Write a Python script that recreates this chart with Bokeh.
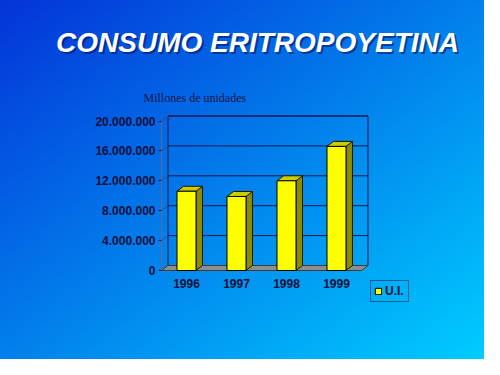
from bokeh.plotting import figure
from bokeh.models import Range1d, FixedTicker, Label, Legend, LegendItem
from bokeh.embed import file_html
from bokeh.resources import INLINE

# ---- data ----
years = ["1996", "1997", "1998", "1999"]
consumo = [10_600_000, 9_900_000, 12_000_000, 16_600_000]
y_ticks = [0, 4_000_000, 8_000_000, 12_000_000, 16_000_000, 20_000_000]
y_tick_labels = ["0", "4.000.000", "8.000.000", "12.000.000", "16.000.000", "20.000.000"]
titulo = "CONSUMO ERITROPOYETINA"
subtitulo = "Millones de unidades"
serie = "U.I."

# ---- layout constants (canvas pixels, from top-left) ----
W, H = 484, 359
Y0PX, YTOPPX = 270, 120.5      # px of 0 and of 20M on the front plane
XSTEP, X0PX = 50, 186          # px per category, px of first category
ymax = y_ticks[-1]
sy = (Y0PX - YTOPPX) / ymax
dxu = 6.5 / XSTEP
dyu = 5 / sy
bw = 0.38
xpos = list(range(len(years)))
x_start = -X0PX / XSTEP
x_end = (W - X0PX) / XSTEP
y_start = -(H - Y0PX) / sy
y_end = Y0PX / sy
wl, wr = -0.5, len(years) - 0.5

NAVY = "#16164e"
TXT = "#10103a"

p = figure(width=W, height=H, x_range=Range1d(x_start, x_end), y_range=Range1d(y_start, y_end),
           output_backend="svg", toolbar_location=None,
           min_border_left=0, min_border_right=0, min_border_top=0, min_border_bottom=0)
p.styles = {"background": "linear-gradient(to bottom right, #0433d8, #00ccff)"}
p.background_fill_alpha = 0
p.border_fill_alpha = 0
p.outline_line_color = None
p.xgrid.visible = False
p.ygrid.visible = False

# axes (drawn at fixed data locations inside the frame)
p.yaxis.fixed_location = wl
p.xaxis.fixed_location = 0
p.yaxis.ticker = FixedTicker(ticks=y_ticks)
p.yaxis.major_label_overrides = {t: l for t, l in zip(y_ticks, y_tick_labels)}
p.yaxis.axis_line_color = None
p.yaxis.major_tick_out = 3
p.yaxis.major_tick_in = 0
p.yaxis.major_tick_line_color = NAVY
p.yaxis.minor_tick_line_color = None
p.yaxis.major_label_standoff = 3
p.xaxis.ticker = FixedTicker(ticks=xpos)
p.xaxis.major_label_overrides = {i: y for i, y in zip(xpos, years)}
p.xaxis.axis_line_color = None
p.xaxis.major_tick_line_color = None
p.xaxis.minor_tick_line_color = None
p.xaxis.major_label_standoff = 2
for ax in (p.xaxis, p.yaxis):
    ax.major_label_text_font = "Liberation Sans"
    ax.major_label_text_font_style = "bold"
    ax.major_label_text_font_size = "12px"
    ax.major_label_text_color = TXT

# back wall
p.patch([wl + dxu, wr + dxu, wr + dxu, wl + dxu], [dyu, dyu, ymax + dyu, ymax + dyu],
        fill_alpha=0, line_color=NAVY, line_width=1)
# gridlines on back wall
p.multi_line([[wl + dxu, wr + dxu] for t in y_ticks[1:]], [[t + dyu, t + dyu] for t in y_ticks[1:]],
             line_color=NAVY, line_width=1)
# left wall
p.multi_line([[wl, wl + dxu] for t in y_ticks], [[t, t + dyu] for t in y_ticks],
             line_color="#3a4a80", line_width=1)
p.line([wl, wl], [0, ymax], line_color="#5a6a90", line_width=1)
# floor
p.patch([wl, wr, wr + dxu, wl + dxu], [0, 0, dyu, dyu],
        fill_color="#8e8e8e", line_color="#3c3c3c", line_width=1)

# bars: side and top faces
side_xs, side_ys, top_xs, top_ys = [], [], [], []
for xi, v in zip(xpos, consumo):
    x0, x1 = xi - bw / 2, xi + bw / 2
    side_xs.append([x1, x1 + dxu, x1 + dxu, x1])
    side_ys.append([0, dyu, v + dyu, v])
    top_xs.append([x0, x1, x1 + dxu, x0 + dxu])
    top_ys.append([v, v, v + dyu, v + dyu])
p.patches(side_xs, side_ys, fill_color="#8c8c00", line_color="#1a1a00", line_width=1)
p.patches(top_xs, top_ys, fill_color="#cccc00", line_color="#1a1a00", line_width=1)
front = p.vbar(x=xpos, top=consumo, bottom=0, width=bw, fill_color="#ffff00",
               line_color="#000000", line_width=1)

# legend (location = bottom-left corner, px from frame bottom-left)
legend = Legend(items=[LegendItem(label=serie, renderers=[front])],
                location=(370, H - 302),
                orientation="vertical", background_fill_alpha=0, border_line_color="#101030",
                border_line_width=1, padding=3, margin=0, spacing=0, glyph_width=8, glyph_height=8,
                label_height=12, label_standoff=3, label_text_font="Liberation Sans",
                label_text_font_style="bold", label_text_font_size="12px", label_text_color=TXT)
p.add_layout(legend, "center")

# title with shadow
tx, ty = 257, H - 42
p.add_layout(Label(x=tx + 2, y=ty - 2, x_units="screen", y_units="screen", text=titulo,
                   text_align="center", text_baseline="middle", text_font="Liberation Sans",
                   text_font_style="bold italic", text_font_size="28px", text_color="#001050",
                   text_alpha=0.55))
p.add_layout(Label(x=tx, y=ty, x_units="screen", y_units="screen", text=titulo,
                   text_align="center", text_baseline="middle", text_font="Liberation Sans",
                   text_font_style="bold italic", text_font_size="28px", text_color="#ffffff"))
p.add_layout(Label(x=143, y=H - 97, x_units="screen", y_units="screen", text=subtitulo,
                   text_align="left", text_baseline="middle", text_font="Liberation Serif",
                   text_font_size="12px", text_color="#141448"))

open("out.html", "w").write(file_html(p, INLINE))
